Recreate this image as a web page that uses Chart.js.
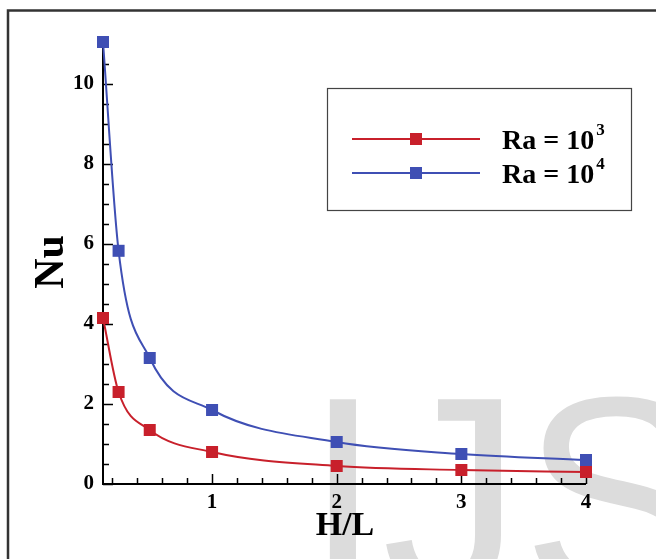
<!DOCTYPE html>
<html>
<head>
<meta charset="utf-8">
<script src="https://cdn.jsdelivr.net/npm/chart.js@4/dist/chart.umd.min.js"></script>
<style>
  html, body { margin: 0; padding: 0; background: #fff; }
  #wrap { width: 656px; height: 559px; }
</style>
</head>
<body>
<div id="wrap"><canvas id="c" width="656" height="559"></canvas></div>
<script>
// Aspect ratio H/L and average Nusselt number for two Rayleigh numbers
const aspectRatio = [0.125, 0.25, 0.5, 1, 2, 3, 4];
const nuRa1e3 = [4.15, 2.3, 1.35, 0.8, 0.45, 0.35, 0.3];
const nuRa1e4 = [11.05, 5.83, 3.15, 1.85, 1.05, 0.75, 0.6];
const seriesBase = ['Ra = 10', 'Ra = 10'];
const seriesExp = ['3', '4'];
const xTickValues = [1, 2, 3, 4];
const yTickValues = [0, 2, 4, 6, 8, 10];
const xTitle = 'H/L';
const yTitle = 'Nu';
const watermark = 'IJSER';

const RED = '#c8202b';
const BLUE = '#3f4fb4';
const SERIF = '"Liberation Serif", "Times New Roman", serif';

function pts(xs, ys) { return xs.map((x, i) => ({ x: x, y: ys[i] })); }

// Page background, frame and faint watermark lettering
const backdrop = {
  id: 'backdrop',
  beforeDraw(chart) {
    const ctx = chart.ctx;
    ctx.save();
    ctx.fillStyle = '#fff';
    ctx.fillRect(0, 0, chart.width, chart.height);
    ctx.font = '280px "Liberation Sans", Arial, sans-serif';
    ctx.fillStyle = '#dcdcdc';
    ctx.textBaseline = 'alphabetic';
    ctx.fillText(watermark, 304, 592);
    ctx.strokeStyle = '#333';
    ctx.lineWidth = 2.5;
    ctx.beginPath();
    ctx.moveTo(8, chart.height + 2);
    ctx.lineTo(8, 10.5);
    ctx.lineTo(chart.width + 2, 10.5);
    ctx.stroke();
    ctx.restore();
  }
};

// Left and bottom axis lines with inward major/minor ticks
const axes = {
  id: 'axes',
  beforeDatasetsDraw(chart) {
    const ctx = chart.ctx;
    const xs = chart.scales.x, ys = chart.scales.y;
    const x0 = xs.left, y0 = ys.bottom;
    ctx.save();
    ctx.strokeStyle = '#000';
    ctx.lineWidth = 2;
    ctx.beginPath();
    ctx.moveTo(x0, ys.getPixelForValue(ys.max));
    ctx.lineTo(x0, y0);
    ctx.lineTo(xs.getPixelForValue(xs.max), y0);
    ctx.stroke();
    ctx.lineWidth = 1.5;
    ctx.beginPath();
    for (let k = 1; k <= 20; k++) {
      const v = k * 0.2;
      const px = Math.round(xs.getPixelForValue(v)) + 0.5;
      const len = Math.abs(v - Math.round(v)) < 1e-6 ? 10 : 6;
      ctx.moveTo(px, y0);
      ctx.lineTo(px, y0 - len);
    }
    for (let k = 0; k <= 22; k++) {
      const v = k * 0.5;
      const py = Math.round(ys.getPixelForValue(v)) + 0.5;
      const len = (k % 4 === 0) ? 10 : 6;
      ctx.moveTo(x0, py);
      ctx.lineTo(x0 + len, py);
    }
    ctx.stroke();
    ctx.restore();
  },
  afterDraw(chart) {
    const ctx = chart.ctx;
    ctx.save();
    ctx.fillStyle = '#000';
    ctx.textAlign = 'center';
    ctx.textBaseline = 'middle';
    ctx.font = 'bold 34px ' + SERIF;
    ctx.fillText(xTitle, 345, 526);
    ctx.translate(52, 262);
    ctx.rotate(-Math.PI / 2);
    ctx.font = 'bold 42px ' + SERIF;
    ctx.fillText(yTitle, 0, 0);
    ctx.restore();
  }
};

// Boxed legend with superscript exponents
const boxLegend = {
  id: 'boxLegend',
  afterDraw(chart) {
    const ctx = chart.ctx;
    ctx.save();
    ctx.strokeStyle = '#444';
    ctx.lineWidth = 1.2;
    ctx.strokeRect(327.5, 88.5, 304, 122);
    const rows = [139, 173];
    chart.data.datasets.forEach((ds, i) => {
      const y = rows[i];
      ctx.strokeStyle = ds.borderColor;
      ctx.lineWidth = ds.borderWidth;
      ctx.beginPath();
      ctx.moveTo(352, y);
      ctx.lineTo(480, y);
      ctx.stroke();
      ctx.fillStyle = ds.borderColor;
      ctx.fillRect(410, y - 6, 12, 12);
      ctx.fillStyle = '#000';
      ctx.textBaseline = 'alphabetic';
      ctx.textAlign = 'left';
      ctx.font = 'bold 28px ' + SERIF;
      const base = seriesBase[i];
      ctx.fillText(base, 502, y + 10);
      const w = ctx.measureText(base).width;
      ctx.font = 'bold 17px ' + SERIF;
      ctx.fillText(seriesExp[i], 502 + w + 2, y - 4);
    });
    ctx.restore();
  }
};

const tickFont = { family: SERIF, size: 21, weight: 'bold' };

new Chart(document.getElementById('c'), {
  type: 'line',
  data: {
    datasets: [
      {
        label: seriesBase[0] + seriesExp[0],
        data: pts(aspectRatio, nuRa1e3),
        borderColor: RED, backgroundColor: RED,
        borderWidth: 2, pointStyle: 'rect', pointRadius: 8.5,
        pointBorderWidth: 0, cubicInterpolationMode: 'monotone', clip: false
      },
      {
        label: seriesBase[1] + seriesExp[1],
        data: pts(aspectRatio, nuRa1e4),
        borderColor: BLUE, backgroundColor: BLUE,
        borderWidth: 2, pointStyle: 'rect', pointRadius: 8.5,
        pointBorderWidth: 0, cubicInterpolationMode: 'monotone', clip: false
      }
    ]
  },
  options: {
    responsive: false,
    animation: false,
    events: [],
    layout: { padding: { top: 44, right: 70, left: 0, bottom: 0 } },
    plugins: { legend: { display: false }, tooltip: { enabled: false }, title: { display: false } },
    scales: {
      x: {
        type: 'linear', min: 0.125, max: 4,
        grid: { display: false, drawTicks: false },
        border: { display: false },
        afterBuildTicks(s) { s.ticks = xTickValues.map(v => ({ value: v })); },
        afterFit(s) { s.height = 75; },
        ticks: { font: tickFont, color: '#000', padding: 6, maxRotation: 0 }
      },
      y: {
        type: 'linear', min: 0, max: 11,
        grid: { display: false, drawTicks: false },
        border: { display: false },
        afterBuildTicks(s) { s.ticks = yTickValues.map(v => ({ value: v })); },
        afterFit(s) { s.width = 103; },
        ticks: { font: tickFont, color: '#000', padding: 9 }
      }
    }
  },
  plugins: [backdrop, axes, boxLegend]
});
</script>
</body>
</html>
